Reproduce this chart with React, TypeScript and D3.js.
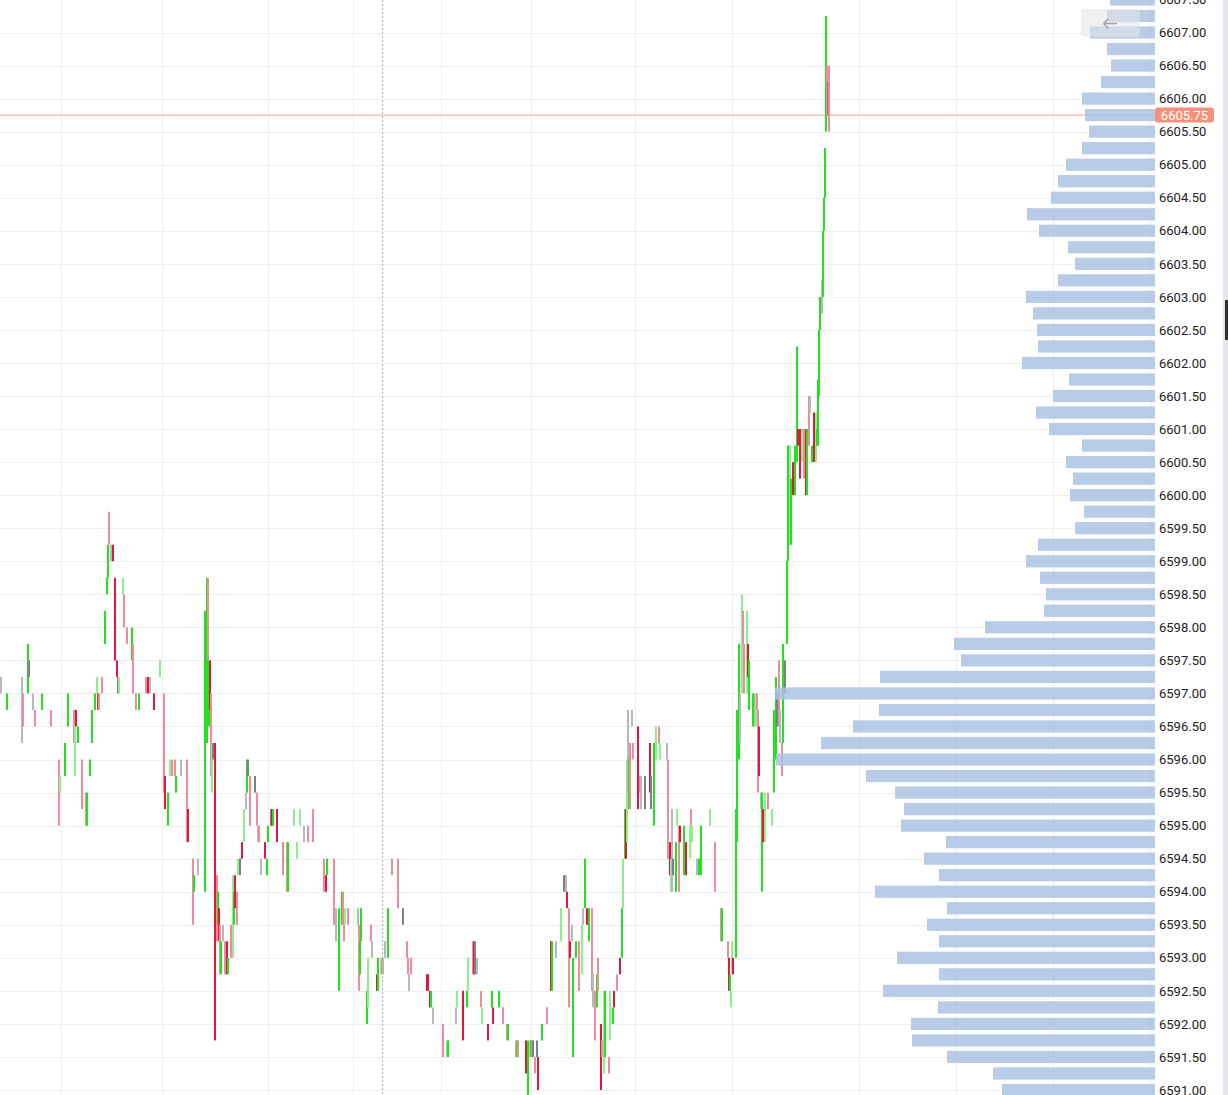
import React from 'react';
import * as d3 from 'd3';

const W = 1228;
const H = 1095;

// price axis tick labels
const priceTicks = [
  6591.0, 6591.5, 6592.0, 6592.5, 6593.0, 6593.5, 6594.0, 6594.5, 6595.0, 6595.5,
  6596.0, 6596.5, 6597.0, 6597.5, 6598.0, 6598.5, 6599.0, 6599.5, 6600.0, 6600.5,
  6601.0, 6601.5, 6602.0, 6602.5, 6603.0, 6603.5, 6604.0, 6604.5, 6605.0, 6605.5,
  6606.0, 6606.5, 6607.0, 6607.5,
];

// time gridlines (seconds from start of view)
const gridTimes = [305, 810, 1340, 1765, 2205, 2655, 3175, 3660, 4295, 4780, 5265, 5750];
const crosshairTime = 1910;

const lastPrice = 6605.75;

// volume profile (price level, volume)
const profilePrices = [
  6591.0, 6591.25, 6591.5, 6591.75, 6592.0, 6592.25, 6592.5, 6592.75, 6593.0, 6593.25,
  6593.5, 6593.75, 6594.0, 6594.25, 6594.5, 6594.75, 6595.0, 6595.25, 6595.5, 6595.75,
  6596.0, 6596.25, 6596.5, 6596.75, 6597.0, 6597.25, 6597.5, 6597.75, 6598.0, 6598.25,
  6598.5, 6598.75, 6599.0, 6599.25, 6599.5, 6599.75, 6600.0, 6600.25, 6600.5, 6600.75,
  6601.0, 6601.25, 6601.5, 6601.75, 6602.0, 6602.25, 6602.5, 6602.75, 6603.0, 6603.25,
  6603.5, 6603.75, 6604.0, 6604.25, 6604.5, 6604.75, 6605.0, 6605.25, 6605.5, 6605.75,
  6606.0, 6606.25, 6606.5, 6606.75, 6607.0, 6607.25, 6607.5,
];
const profileVolumes = [
  153, 162, 208, 243, 244, 217, 272, 216, 258, 216,
  228, 208, 280, 216, 231, 209, 254, 251, 260, 289,
  379, 334, 302, 276, 380, 275, 194, 201, 170, 111,
  109, 115, 129, 117, 80, 71, 85, 82, 89, 73,
  106, 119, 102, 86, 133, 117, 118, 122, 129, 97,
  80, 87, 116, 128, 104, 97, 89, 73, 66, 70,
  73, 54, 44, 48, 65, 48, 45,
];

// candles: [time (s), high, low, tone]
// tone: G up, g up (light), R down, r down (light), K flat, D flat (dark)
const candles: [number, number, number, string][] = [
  [5, 6597.25, 6597.0, 'K'], [35, 6597.0, 6596.75, 'G'], [110, 6597.25, 6596.25, 'K'], [115, 6597.0, 6596.5, 'r'],
  [140, 6597.75, 6597.0, 'G'], [145, 6597.5, 6597.25, 'D'], [165, 6597.0, 6596.75, 'K'], [175, 6596.75, 6596.5, 'r'],
  [210, 6597.0, 6596.75, 'G'], [255, 6596.75, 6596.5, 'r'], [295, 6596.0, 6595.0, 'r'], [300, 6595.75, 6595.5, 'g'],
  [325, 6596.25, 6595.75, 'G'], [340, 6597.0, 6596.5, 'G'], [370, 6596.75, 6596.25, 'r'], [375, 6596.5, 6595.75, 'g'],
  [380, 6596.75, 6596.5, 'R'], [390, 6596.5, 6596.25, 'G'], [410, 6596.0, 6595.25, 'r'], [430, 6595.5, 6595.0, 'r'],
  [435, 6595.5, 6595.0, 'G'], [450, 6596.0, 6595.75, 'G'], [460, 6596.75, 6596.25, 'G'], [475, 6597.0, 6596.75, 'G'],
  [485, 6597.25, 6597.0, 'g'], [490, 6597.0, 6596.75, 'R'], [495, 6597.0, 6596.75, 'r'], [510, 6597.25, 6597.0, 'r'],
  [525, 6598.25, 6597.75, 'G'], [535, 6598.75, 6598.5, 'G'], [540, 6599.25, 6598.75, 'G'], [545, 6599.75, 6599.25, 'r'],
  [555, 6599.25, 6599.0, 'K'], [565, 6599.25, 6599.0, 'R'], [575, 6598.75, 6597.5, 'R'], [585, 6597.5, 6597.25, 'R'],
  [590, 6597.25, 6597.0, 'D'], [595, 6597.25, 6597.0, 'g'], [615, 6598.75, 6598.5, 'g'], [620, 6598.5, 6598.0, 'r'],
  [635, 6598.0, 6597.75, 'r'], [660, 6598.0, 6597.5, 'G'], [665, 6597.75, 6597.0, 'r'], [680, 6597.0, 6596.75, 'r'],
  [695, 6597.0, 6596.75, 'G'], [730, 6597.25, 6597.0, 'r'], [740, 6597.25, 6597.0, 'R'], [750, 6597.25, 6597.0, 'K'],
  [770, 6597.0, 6596.75, 'R'], [800, 6597.5, 6597.25, 'g'], [820, 6597.0, 6595.5, 'r'], [825, 6595.75, 6595.25, 'R'],
  [840, 6595.5, 6595.0, 'G'], [850, 6596.0, 6595.75, 'g'], [860, 6596.0, 6595.75, 'r'], [875, 6596.0, 6595.75, 'r'],
  [880, 6595.75, 6595.5, 'G'], [905, 6596.0, 6595.75, 'K'], [935, 6596.0, 6594.75, 'r'], [940, 6595.25, 6594.75, 'R'],
  [965, 6594.5, 6593.5, 'r'], [970, 6594.25, 6594.0, 'G'], [990, 6594.5, 6594.25, 'K'], [1025, 6598.25, 6594.0, 'G'],
  [1035, 6598.75, 6596.25, 'G'], [1040, 6598.75, 6597.5, 'r'], [1045, 6597.5, 6596.5, 'G'], [1050, 6597.5, 6596.75, 'R'],
  [1055, 6597.0, 6595.75, 'r'], [1060, 6596.25, 6595.5, 'g'], [1065, 6596.25, 6596.0, 'D'], [1075, 6596.25, 6591.75, 'R'],
  [1085, 6594.25, 6593.25, 'r'], [1090, 6594.0, 6593.5, 'G'], [1095, 6593.75, 6593.25, 'R'], [1100, 6593.5, 6592.75, 'r'],
  [1105, 6593.25, 6592.75, 'G'], [1115, 6593.5, 6593.25, 'K'], [1125, 6593.25, 6592.75, 'r'], [1135, 6593.25, 6592.75, 'R'],
  [1140, 6593.0, 6592.75, 'G'], [1155, 6593.5, 6593.0, 'r'], [1165, 6594.25, 6593.0, 'g'], [1170, 6594.0, 6593.5, 'G'],
  [1175, 6594.25, 6593.75, 'R'], [1185, 6594.0, 6593.5, 'r'], [1190, 6594.5, 6594.25, 'g'], [1200, 6594.5, 6594.25, 'D'],
  [1210, 6594.75, 6594.5, 'R'], [1220, 6595.25, 6594.75, 'g'], [1230, 6595.5, 6595.25, 'K'], [1235, 6596.0, 6595.5, 'G'],
  [1240, 6596.0, 6595.75, 'D'], [1250, 6595.75, 6595.0, 'r'], [1275, 6595.75, 6595.5, 'D'], [1285, 6595.5, 6595.0, 'r'],
  [1290, 6595.0, 6594.75, 'K'], [1295, 6595.0, 6594.75, 'r'], [1305, 6594.5, 6594.25, 'K'], [1325, 6594.75, 6594.5, 'R'],
  [1335, 6594.5, 6594.25, 'G'], [1340, 6595.0, 6594.75, 'G'], [1355, 6595.25, 6595.0, 'D'], [1360, 6595.25, 6595.0, 'R'],
  [1365, 6595.25, 6595.0, 'G'], [1385, 6595.25, 6594.75, 'R'], [1415, 6594.75, 6594.25, 'r'], [1435, 6594.75, 6594.0, 'r'],
  [1440, 6594.75, 6594.0, 'G'], [1470, 6595.25, 6595.0, 'g'], [1485, 6594.75, 6594.5, 'g'], [1500, 6595.25, 6595.0, 'g'],
  [1520, 6595.0, 6594.75, 'K'], [1540, 6595.0, 6594.75, 'r'], [1565, 6595.25, 6594.75, 'r'], [1620, 6594.5, 6594.0, 'r'],
  [1630, 6594.25, 6594.0, 'R'], [1635, 6594.5, 6594.25, 'G'], [1670, 6594.5, 6593.5, 'r'], [1680, 6593.75, 6593.25, 'K'],
  [1695, 6593.75, 6592.5, 'G'], [1710, 6594.0, 6593.5, 'G'], [1715, 6594.0, 6593.5, 'r'], [1720, 6593.5, 6593.25, 'r'],
  [1725, 6593.75, 6593.5, 'g'], [1740, 6593.75, 6593.5, 'r'], [1790, 6593.75, 6593.5, 'K'], [1795, 6593.5, 6592.5, 'r'],
  [1800, 6593.25, 6592.75, 'G'], [1805, 6593.75, 6593.25, 'G'], [1835, 6592.5, 6592.0, 'G'], [1840, 6593.0, 6592.25, 'g'],
  [1855, 6593.5, 6593.25, 'r'], [1860, 6593.25, 6593.0, 'K'], [1885, 6592.75, 6592.5, 'R'], [1890, 6593.0, 6592.5, 'G'],
  [1905, 6593.0, 6592.75, 'g'], [1910, 6593.0, 6592.75, 'r'], [1915, 6593.0, 6592.75, 'K'], [1925, 6593.25, 6593.0, 'K'],
  [1940, 6593.75, 6593.0, 'G'], [1960, 6594.5, 6594.25, 'r'], [1990, 6594.5, 6593.75, 'r'], [2015, 6593.75, 6593.5, 'D'],
  [2035, 6593.25, 6593.0, 'r'], [2040, 6593.0, 6592.75, 'r'], [2045, 6592.75, 6592.5, 'K'], [2055, 6593.0, 6592.75, 'r'],
  [2135, 6592.75, 6592.5, 'R'], [2140, 6592.75, 6592.5, 'R'], [2150, 6592.5, 6592.25, 'R'], [2155, 6592.5, 6592.25, 'G'],
  [2165, 6592.25, 6592.0, 'K'], [2215, 6592.0, 6591.5, 'r'], [2235, 6591.75, 6591.5, 'g'], [2240, 6591.75, 6591.5, 'G'],
  [2280, 6592.25, 6592.0, 'K'], [2285, 6592.5, 6592.25, 'g'], [2315, 6592.5, 6591.75, 'R'], [2335, 6592.5, 6592.25, 'G'],
  [2340, 6593.0, 6592.5, 'g'], [2365, 6593.25, 6592.75, 'r'], [2370, 6593.25, 6592.75, 'R'], [2375, 6593.25, 6592.75, 'D'],
  [2385, 6593.0, 6592.75, 'K'], [2405, 6592.5, 6592.25, 'r'], [2410, 6592.25, 6592.0, 'g'], [2440, 6592.0, 6591.75, 'R'],
  [2460, 6592.5, 6592.25, 'G'], [2465, 6592.25, 6592.0, 'R'], [2495, 6592.5, 6592.25, 'G'], [2515, 6592.25, 6592.0, 'r'],
  [2535, 6592.0, 6591.75, 'r'], [2540, 6592.0, 6591.75, 'G'], [2580, 6591.75, 6591.5, 'K'], [2585, 6591.75, 6591.5, 'G'],
  [2590, 6591.75, 6591.5, 'r'], [2630, 6591.75, 6591.25, 'R'], [2640, 6591.75, 6590.75, 'G'], [2650, 6591.75, 6591.5, 'g'],
  [2655, 6591.75, 6591.5, 'G'], [2660, 6591.75, 6591.5, 'r'], [2665, 6591.75, 6591.5, 'D'], [2675, 6591.5, 6591.25, 'r'],
  [2685, 6591.75, 6591.5, 'D'], [2690, 6591.5, 6591.0, 'R'], [2710, 6592.0, 6591.75, 'G'], [2735, 6592.25, 6592.0, 'r'],
  [2755, 6593.25, 6592.5, 'R'], [2760, 6593.25, 6592.5, 'G'], [2780, 6593.25, 6593.0, 'K'], [2805, 6593.75, 6593.25, 'g'],
  [2820, 6594.25, 6594.0, 'D'], [2830, 6594.25, 6594.0, 'K'], [2835, 6594.0, 6593.75, 'R'], [2845, 6593.75, 6592.25, 'r'],
  [2850, 6593.25, 6593.0, 'R'], [2860, 6593.5, 6593.25, 'K'], [2865, 6593.0, 6591.5, 'G'], [2880, 6593.25, 6593.0, 'G'],
  [2895, 6593.25, 6592.5, 'r'], [2910, 6593.5, 6592.75, 'g'], [2915, 6593.75, 6593.5, 'K'], [2925, 6594.5, 6593.75, 'G'],
  [2935, 6593.75, 6593.5, 'R'], [2945, 6593.75, 6593.25, 'G'], [2960, 6593.75, 6592.5, 'r'], [2965, 6592.75, 6592.25, 'K'],
  [2975, 6592.5, 6591.75, 'r'], [2985, 6592.75, 6592.25, 'G'], [2990, 6593.0, 6592.5, 'r'], [3005, 6592.0, 6591.0, 'R'],
  [3010, 6591.75, 6591.5, 'r'], [3020, 6592.5, 6591.25, 'g'], [3025, 6592.5, 6591.5, 'G'], [3045, 6591.5, 6591.25, 'r'],
  [3050, 6592.5, 6591.75, 'g'], [3065, 6592.25, 6592.0, 'G'], [3070, 6592.5, 6592.25, 'R'], [3085, 6592.75, 6592.5, 'r'],
  [3100, 6593.0, 6592.75, 'R'], [3110, 6593.75, 6593.0, 'G'], [3115, 6594.5, 6593.75, 'g'], [3125, 6595.25, 6594.5, 'G'],
  [3130, 6595.25, 6594.5, 'R'], [3135, 6596.0, 6594.75, 'g'], [3140, 6596.75, 6595.5, 'K'], [3145, 6596.0, 6595.25, 'G'],
  [3150, 6596.25, 6595.25, 'r'], [3160, 6596.75, 6596.5, 'K'], [3165, 6596.25, 6596.0, 'r'], [3190, 6596.5, 6595.25, 'R'],
  [3200, 6595.75, 6595.5, 'r'], [3205, 6595.75, 6595.25, 'K'], [3225, 6595.75, 6595.25, 'D'], [3250, 6596.25, 6595.5, 'R'],
  [3255, 6595.75, 6595.25, 'D'], [3270, 6596.25, 6595.0, 'G'], [3280, 6596.5, 6596.0, 'g'], [3295, 6596.5, 6596.25, 'r'],
  [3300, 6596.25, 6596.0, 'g'], [3335, 6596.25, 6596.0, 'K'], [3340, 6596.0, 6594.5, 'r'], [3350, 6594.75, 6594.25, 'R'],
  [3355, 6594.5, 6594.0, 'g'], [3360, 6595.25, 6594.0, 'K'], [3365, 6594.5, 6594.25, 'D'], [3380, 6594.75, 6594.0, 'G'],
  [3385, 6595.25, 6595.0, 'g'], [3395, 6595.0, 6594.0, 'r'], [3400, 6595.0, 6594.75, 'R'], [3420, 6595.0, 6594.25, 'G'],
  [3430, 6594.75, 6594.25, 'R'], [3450, 6595.0, 6594.5, 'g'], [3455, 6595.25, 6595.0, 'r'], [3460, 6595.0, 6594.75, 'g'],
  [3485, 6594.5, 6594.25, 'K'], [3495, 6594.5, 6594.25, 'G'], [3505, 6595.0, 6594.25, 'G'], [3550, 6595.25, 6595.0, 'g'],
  [3575, 6594.75, 6594.0, 'r'], [3605, 6593.75, 6593.25, 'r'], [3610, 6593.75, 6593.25, 'G'], [3640, 6593.25, 6593.0, 'r'],
  [3645, 6593.0, 6592.5, 'R'], [3650, 6592.75, 6592.5, 'G'], [3655, 6592.5, 6592.25, 'g'], [3660, 6593.25, 6592.75, 'g'],
  [3665, 6593.0, 6592.75, 'R'], [3680, 6595.25, 6593.0, 'G'], [3685, 6596.75, 6594.75, 'G'], [3695, 6597.75, 6596.0, 'G'],
  [3700, 6597.0, 6596.25, 'K'], [3710, 6598.5, 6597.0, 'g'], [3715, 6598.25, 6597.75, 'r'], [3720, 6597.75, 6597.0, 'r'],
  [3735, 6598.25, 6597.0, 'g'], [3740, 6597.75, 6597.25, 'R'], [3745, 6597.5, 6596.75, 'G'], [3765, 6597.0, 6596.5, 'G'],
  [3775, 6597.0, 6596.5, 'K'], [3780, 6597.0, 6596.5, 'g'], [3785, 6597.0, 6596.75, 'r'], [3790, 6596.75, 6595.5, 'r'],
  [3795, 6596.5, 6595.75, 'R'], [3805, 6595.5, 6595.25, 'K'], [3810, 6595.5, 6594.0, 'G'], [3815, 6595.25, 6594.75, 'R'],
  [3825, 6595.5, 6594.75, 'g'], [3840, 6595.5, 6595.25, 'r'], [3860, 6595.25, 6595.0, 'g'], [3870, 6596.75, 6595.5, 'G'],
  [3880, 6597.25, 6596.0, 'G'], [3885, 6597.0, 6596.5, 'D'], [3895, 6597.5, 6596.5, 'r'], [3900, 6596.75, 6596.25, 'K'],
  [3910, 6596.25, 6595.75, 'r'], [3915, 6597.75, 6596.25, 'G'], [3925, 6597.5, 6597.0, 'D'], [3935, 6599.0, 6597.75, 'G'],
  [3940, 6600.75, 6599.0, 'G'], [3950, 6600.75, 6599.25, 'g'], [3955, 6600.25, 6599.25, 'G'], [3965, 6600.5, 6600.0, 'R'],
  [3975, 6600.75, 6600.0, 'G'], [3985, 6602.25, 6600.5, 'G'], [3990, 6601.0, 6600.75, 'R'], [4000, 6601.0, 6600.25, 'R'],
  [4010, 6601.0, 6600.5, 'g'], [4020, 6601.0, 6600.25, 'r'], [4030, 6601.0, 6600.0, 'R'], [4035, 6601.0, 6600.0, 'G'],
  [4045, 6601.5, 6600.75, 'r'], [4050, 6601.5, 6601.25, 'K'], [4060, 6600.75, 6600.5, 'G'], [4070, 6601.25, 6600.5, 'R'],
  [4080, 6601.25, 6600.5, 'g'], [4085, 6601.0, 6600.75, 'G'], [4090, 6601.75, 6600.75, 'G'], [4095, 6602.5, 6601.5, 'G'],
  [4100, 6603.0, 6602.5, 'G'], [4110, 6603.25, 6602.75, 'K'], [4115, 6604.0, 6603.0, 'G'], [4120, 6604.5, 6604.0, 'G'],
  [4125, 6605.25, 6604.5, 'G'], [4130, 6607.25, 6605.5, 'G'], [4135, 6606.5, 6605.75, 'r'], [4140, 6606.25, 6605.75, 'D'],
  [4145, 6606.5, 6605.5, 'r'],
];

const toneColor: Record<string, string> = {
  G: '#1ee31e',
  g: '#8cf08c',
  R: '#e3173d',
  r: '#f08c9a',
  K: '#b7b7be',
  D: '#7f7f8a',
};

const PLOT_RIGHT = 1155;
const LABEL_X = 1159;
const FONT = 'Roboto, "Noto Sans", sans-serif';

export default function App() {
  const y = d3.scaleLinear().domain([6591, 6607]).range([1090, 32.5]);
  const x = d3.scaleLinear().domain([0, 6140]).range([0, W]);
  const maxVol = d3.max(profileVolumes) as number;
  const vx = d3.scaleLinear().domain([0, maxVol]).range([0, 380]);
  const step = Math.abs(y(0.25) - y(0));
  const barH = step * 0.74;

  return (
    <div style={{ position: 'absolute', left: 0, top: 0, width: W, height: H, overflow: 'hidden', background: '#fff' }}>
      <svg width={W} height={H} style={{ display: 'block', fontFamily: FONT }}>
        <rect x={0} y={0} width={W} height={H} fill="#ffffff" />
        {/* horizontal gridlines */}
        <g>
          {priceTicks.map((p) => (
            <line key={'h' + p} x1={0} x2={PLOT_RIGHT} y1={Math.round(y(p)) + 0.5} y2={Math.round(y(p)) + 0.5}
              stroke="#efefef" strokeWidth={1.2} />
          ))}
        </g>
        {/* vertical gridlines */}
        <g>
          {gridTimes.map((t) => (
            <line key={'v' + t} x1={Math.round(x(t)) + 0.5} x2={Math.round(x(t)) + 0.5} y1={0} y2={H}
              stroke="#efefef" strokeWidth={1.2} />
          ))}
        </g>
        {/* last price line */}
        <line x1={0} x2={PLOT_RIGHT} y1={y(lastPrice)} y2={y(lastPrice)} stroke="#f5b4a4" strokeWidth={1.3} />
        {/* candles */}
        <g>
          {candles.map(([t, hi, lo, tone], i) => {
            const y1 = y(hi);
            const y2 = y(lo);
            return (
              <rect key={'c' + i} x={x(t) - 1} y={y1} width={2} height={Math.max(1, y2 - y1)}
                fill={toneColor[tone]} />
            );
          })}
        </g>
        {/* volume profile */}
        <g>
          {profilePrices.map((p, i) => {
            const w = vx(profileVolumes[i]);
            return (
              <rect key={'vp' + p} x={PLOT_RIGHT - w} y={y(p) - barH / 2} width={w} height={barH}
                fill="#a9c1e2" fillOpacity={0.82} />
            );
          })}
        </g>
        {/* crosshair */}
        <line x1={Math.round(x(crosshairTime)) + 0.5} x2={Math.round(x(crosshairTime)) + 0.5} y1={0} y2={H}
          stroke="#b0b0b0" strokeWidth={1} strokeDasharray="2,2" />
        {/* price labels */}
        <g>
          {priceTicks.map((p) => (
            <text key={'t' + p} x={LABEL_X} y={y(p)} dy="0.36em" fontSize={13} fill="#222" fontFamily={FONT}>
              {p.toFixed(2)}
            </text>
          ))}
        </g>
        {/* last price tag */}
        <g>
          <rect x={PLOT_RIGHT} y={y(lastPrice) - 7.5} width={59} height={15} rx={3} fill="#f5917b" />
          <text x={PLOT_RIGHT + 29.5} y={y(lastPrice)} dy="0.36em" textAnchor="middle" fontSize={13} fill="#ffffff" fontFamily={FONT}>
            {lastPrice.toFixed(2)}
          </text>
        </g>
        {/* back button */}
        <g>
          <rect x={1081} y={9} width={59} height={28} rx={4} fill="#e4e6ea" fillOpacity={0.55} />
          <path d="M1103.5,23.5 H1117 M1103.5,23.5 L1108.5,18.5 M1103.5,23.5 L1108.5,28.5" stroke="#9c9ca4"
            strokeWidth={1.3} fill="none" />
        </g>
        {/* right edge */}
        <rect x={1223} y={0} width={5} height={H} fill="#e4e4ea" />
        <rect x={1225} y={300} width={3} height={40} fill="#333" />
      </svg>
    </div>
  );
}
